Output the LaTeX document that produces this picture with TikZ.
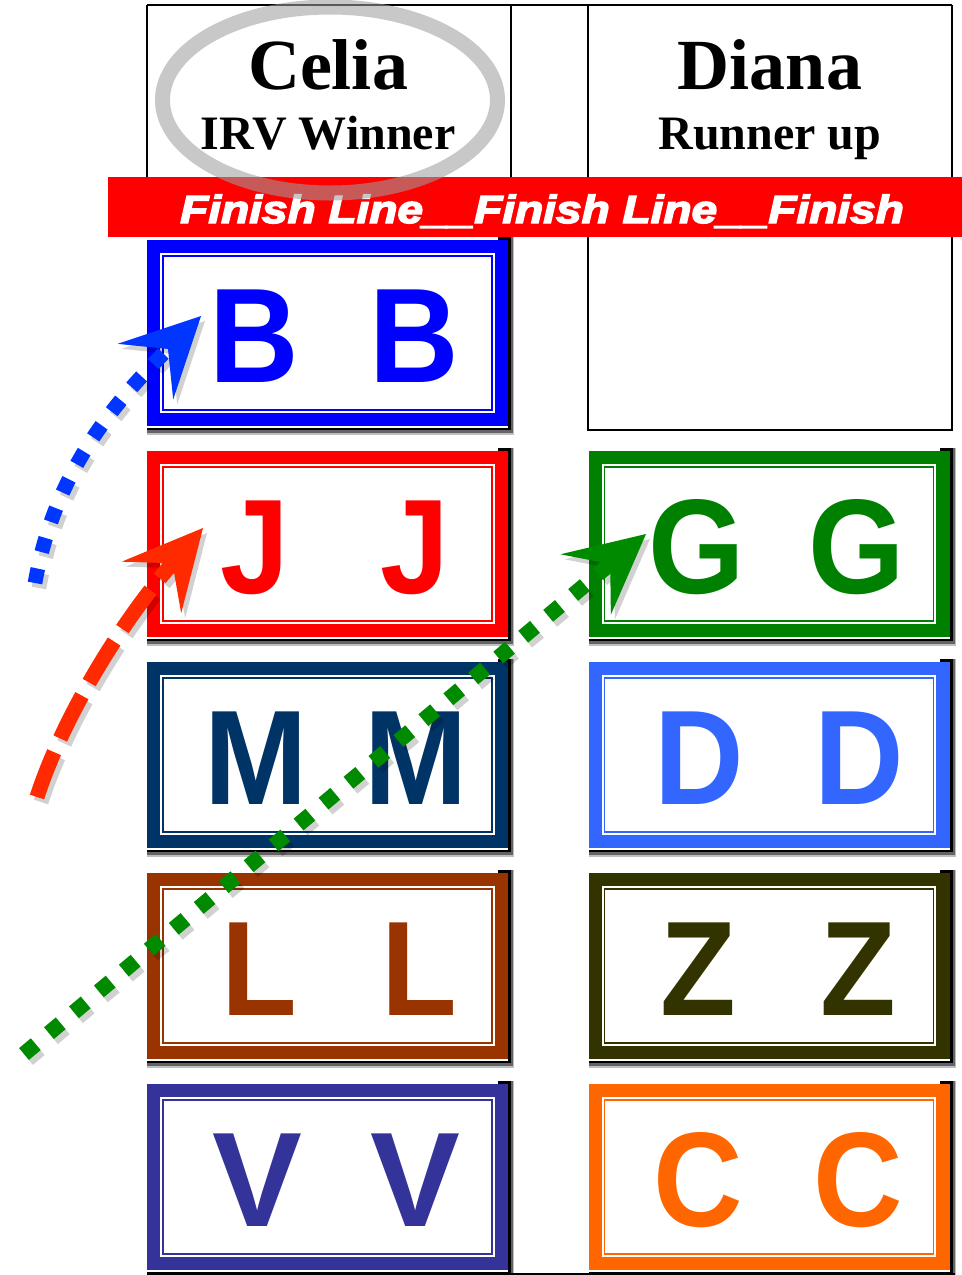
\documentclass[tikz,border=0pt]{standalone}
\usepackage{fontspec}
\usepackage{graphicx}
\setmainfont{Liberation Serif}
\newfontfamily\cardfont{Liberation Sans}
\newfontfamily\finishfont{Liberation Sans}[BoldItalicFeatures={FakeBold=3.5}]
\usetikzlibrary{arrows.meta}
\definecolor{cB}{HTML}{0000FF}
\definecolor{cJ}{HTML}{FF0000}
\definecolor{cM}{HTML}{003366}
\definecolor{cL}{HTML}{993300}
\definecolor{cV}{HTML}{333399}
\definecolor{cG}{HTML}{008000}
\definecolor{cD}{HTML}{3366FF}
\definecolor{cZ}{HTML}{333300}
\definecolor{cC}{HTML}{FF6600}
\definecolor{arB}{HTML}{0036FF}
\definecolor{arR}{HTML}{FF2A00}
\definecolor{arG}{HTML}{008A00}
\definecolor{ringgray}{RGB}{158,158,158}
\definecolor{darkshade}{RGB}{100,100,100}
\definecolor{lightshade}{RGB}{190,190,190}
\newcommand{\card}[4]{%
  \fill[lightshade] (#2+351,#3-3) rectangle (#2+367,#3+195);
  \fill[lightshade] (#2,#3+176) rectangle (#2+367,#3+195);
  \fill[darkshade] (#2+351,#3-3) rectangle (#2+366,#3+193);
  \fill[darkshade] (#2,#3+176) rectangle (#2+366,#3+193);
  \fill[black] (#2+351,#3-3) rectangle (#2+364,#3+190);
  \fill[black] (#2,#3+176) rectangle (#2+364,#3+190);
  \fill[white] (#2,#3+176) rectangle (#2+361,#3+188);
  \node[cardbox, draw=#4] (#1) at (#2+180.5,#3+93) {};
  \draw[#4, line width=1.1pt] ([shift={(9.4,9.4)}]#1.north west) rectangle ([shift={(-9.4,-9.4)}]#1.south east);
}
\newcommand{\cardletter}[1]{\scalebox{0.92}[1]{#1}}
\begin{document}
\begin{tikzpicture}[x=0.75pt,y=-0.75pt,
  tableline/.style={draw=black, line width=1.5pt},
  cardbox/.style={rectangle, fill=white, line width=10pt, minimum width=260.75pt, minimum height=129.5pt, inner sep=0pt, outer sep=0pt},
  letter/.style={font={\cardfont\bfseries\fontsize{101}{101}\selectfont}, inner sep=0pt, anchor=base},
  hdrbig/.style={font={\bfseries\fontsize{54}{54}\selectfont}, inner sep=0pt, anchor=base},
  hdrsmall/.style={font={\bfseries\fontsize{36}{36}\selectfont}, inner sep=0pt, anchor=base},
  band/.style={fill=red, minimum width=640.5pt, minimum height=45pt, inner sep=0pt, outer sep=0pt},
  finishtext/.style={font={\finishfont\bfseries\itshape\fontsize{29.5}{29.5}\selectfont}, text=white, inner sep=0pt, anchor=base},
  ring/.style={draw=ringgray, draw opacity=0.57, line width=11.25pt},
  bigtip/.style={-{Stealth[length=59pt,width=59pt,inset=24pt,line width=0pt]}},
  bluearrow/.style={bigtip, draw=arB, line width=11pt, dash pattern=on 11pt off 12.7pt},
  redarrow/.style={bigtip, draw=arR, line width=11.25pt, dash pattern=on 36pt off 11.25pt},
  greenarrow/.style={bigtip, draw=arG, line width=11.5pt, dash pattern=on 11.5pt off 12.9pt},
  shadowlayer/.style={transform canvas={shift={(3pt,-3.75pt)}}, opacity=0.18}
]
\useasboundingbox (0,0) rectangle (962,1275);
\clip (0,0) rectangle (962,1275);

% table lines
\draw[tableline] (147,5) -- (952,5);
\draw[tableline] (147,5) -- (147,177);
\draw[tableline] (511,5) -- (511,237);
\draw[tableline] (588,5) -- (588,430) -- (952,430) -- (952,5);

% cards
\card{cardB}{147}{240}{cB}
\card{cardJ}{147}{451}{cJ}
\card{cardM}{147}{662}{cM}
\card{cardL}{147}{873}{cL}
\card{cardV}{147}{1084}{cV}
\card{cardG}{588.5}{451}{cG}
\card{cardD}{588.5}{662}{cD}
\card{cardZ}{588.5}{873}{cZ}
\card{cardC}{588.5}{1084}{cC}

\draw[tableline] (147,1274) -- (955,1274);

% letters
\node[letter, text=cB] (lB1) at (254,382) {\cardletter{B}};
\node[letter, text=cB] (lB2) at (414,382) {\cardletter{B}};
\node[letter, text=cJ] (lJ1) at (255,593) {\cardletter{J}};
\node[letter, text=cJ] (lJ2) at (415,593) {\cardletter{J}};
\node[letter, text=cM] (lM1) at (256,804) {\cardletter{M}};
\node[letter, text=cM] (lM2) at (416,804) {\cardletter{M}};
\node[letter, text=cL] (lL1) at (259,1015) {\cardletter{L}};
\node[letter, text=cL] (lL2) at (419,1015) {\cardletter{L}};
\node[letter, text=cV] (lV1) at (257,1226) {V};
\node[letter, text=cV] (lV2) at (415,1226) {V};
\node[letter, text=cG] (lG1) at (697,593) {\cardletter{G}};
\node[letter, text=cG] (lG2) at (857,593) {\cardletter{G}};
\node[letter, text=cD] (lD1) at (699,804) {\cardletter{D}};
\node[letter, text=cD] (lD2) at (859,804) {\cardletter{D}};
\node[letter, text=cZ] (lZ1) at (698,1015) {\cardletter{Z}};
\node[letter, text=cZ] (lZ2) at (858,1015) {\cardletter{Z}};
\node[letter, text=cC] (lC1) at (698,1226) {\cardletter{C}};
\node[letter, text=cC] (lC2) at (858,1226) {\cardletter{C}};

% finish line band
\node[band] (finish) at (535,207) {};
\node[finishtext] (finishtxt) at (542,223) {\scalebox{1.17}[1]{Finish Line\_\_Finish Line\_\_Finish}};

% headers
\node[hdrbig] (celia) at (328,89) {Celia};
\node[hdrsmall] (irv) at (328,149) {IRV Winner};
\node[hdrbig] (diana) at (770,89) {Diana};
\node[hdrsmall] (runner) at (770,149) {Runner up};

% winner ring
\draw[ring] (330,100) ellipse [x radius=167.5, y radius=93];

% arrows
\coordinate (bS) at (35,583);
\coordinate (bT) at (201,316);
\coordinate (rS) at (37,797);
\coordinate (rT) at (203,528);
\coordinate (gS) at (24,1054);
\coordinate (gT) at (646,534);

\begin{scope}[shadowlayer]
  \draw[bluearrow, draw=black] (bS) .. controls (55,470) and (116,401) .. (bT);
  \draw[redarrow, draw=black] (rS) .. controls (62,720) and (118,626) .. (rT);
  \draw[greenarrow, draw=black] (gS) -- (gT);
\end{scope}
\draw[bluearrow] (bS) .. controls (55,470) and (116,401) .. (bT);
\draw[redarrow] (rS) .. controls (62,720) and (118,626) .. (rT);
\draw[greenarrow] (gS) -- (gT);
\end{tikzpicture}
\end{document}
